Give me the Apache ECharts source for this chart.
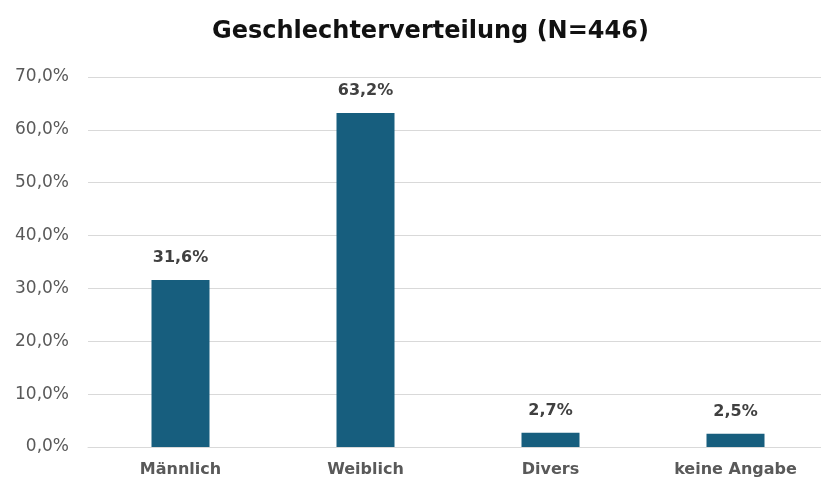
<!DOCTYPE html>
<html>
<head>
<meta charset="utf-8">
<script src="https://cdn.jsdelivr.net/npm/echarts@6/dist/echarts.min.js"></script>
<style>
    html, body { margin: 0; padding: 0; background: #fff; overflow: hidden; }
    /* Die Originalgrafik ist rechts abgeschnitten, daher etwas breiter */
    #chart { width: 830px; height: 482px; }
</style>
</head>
<body>
<div id="chart"></div>
<script>
// Daten
var categories = ["Männlich", "Weiblich", "Divers", "keine Angabe"];
var shares = [31.6, 63.2, 2.7, 2.5];
var yTicks = [0, 10, 20, 30, 40, 50, 60, 70];

function pct(v) {
    return v.toFixed(1).replace(".", ",") + "%";
}

var myChart = echarts.init(document.getElementById("chart"));

var option = {
    animation: false,
    title: {
        text: "Geschlechterverteilung (N=446)",
        left: 207,
        top: 15,
        textStyle: {
            fontFamily: "DejaVu Sans",
            fontWeight: "bold",
            fontSize: 24,
            color: "#111"
        }
    },
    grid: {
        left: 88,
        right: 2,
        top: 77,
        bottom: 35,
        containLabel: false
    },
    xAxis: {
        type: "category",
        data: categories,
        axisLine: { lineStyle: { color: "#d9d9d9" } },
        axisTick: { show: false },
        axisLabel: {
            margin: 15,
            fontFamily: "DejaVu Sans",
            fontWeight: "bold",
            fontSize: 16,
            color: "#595959"
        }
    },
    yAxis: {
        type: "value",
        min: yTicks[0],
        max: yTicks[yTicks.length - 1],
        interval: 10,
        axisLine: { show: false },
        axisTick: { show: false },
        splitLine: { lineStyle: { color: "#d9d9d9", width: 1 } },
        axisLabel: {
            margin: 19,
            fontFamily: "DejaVu Sans",
            fontSize: 17,
            color: "#595959",
            formatter: function (v) { return pct(v); }
        }
    },
    series: [
        {
            type: "bar",
            data: shares,
            barWidth: 58,
            itemStyle: { color: "#175e7e" },
            label: {
                show: true,
                position: "top",
                distance: 14,
                fontFamily: "DejaVu Sans",
                fontWeight: "bold",
                fontSize: 16,
                color: "#404040",
                formatter: function (p) { return pct(p.value); }
            }
        }
    ]
};

myChart.setOption(option);
</script>
</body>
</html>
